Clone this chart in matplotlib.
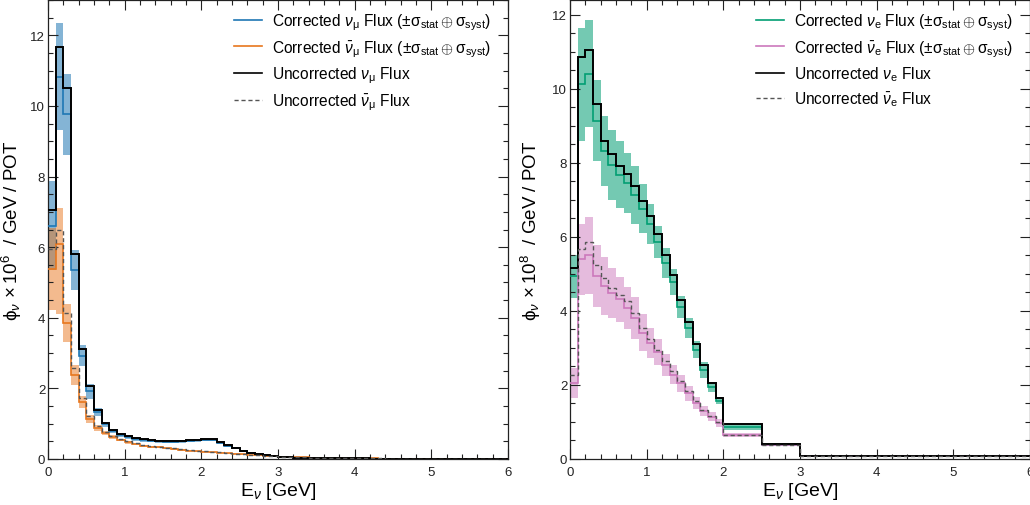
import matplotlib
matplotlib.use('Agg')
import matplotlib.pyplot as plt
import numpy as np
from matplotlib.lines import Line2D
from matplotlib.ticker import MultipleLocator

plt.rcParams['font.family'] = ['Liberation Sans', 'DejaVu Sans']
plt.rcParams['mathtext.fontset'] = 'custom'
plt.rcParams['mathtext.rm'] = 'Liberation Sans'
plt.rcParams['mathtext.it'] = 'Liberation Sans:italic'
plt.rcParams['mathtext.bf'] = 'Liberation Sans:bold'

# ---------------- data: muon-neutrino panel (0.1 GeV bins, 0-6 GeV) ----------------
mu_edges = np.linspace(0.0, 6.0, 61)
numu_uncorr = [7.05, 11.68, 10.50, 5.80, 3.12, 2.08, 1.40, 1.03, 0.83, 0.72,
               0.64, 0.59, 0.56, 0.54, 0.52, 0.51, 0.51, 0.52, 0.53, 0.55,
               0.56, 0.56, 0.47, 0.39, 0.31, 0.24, 0.18, 0.13, 0.10, 0.075,
               0.058, 0.047, 0.040, 0.034, 0.030, 0.026, 0.023, 0.021, 0.019, 0.017,
               0.016, 0.015, 0.014, 0.013, 0.012, 0.011, 0.011, 0.010, 0.010, 0.009,
               0.009, 0.008, 0.008, 0.008, 0.007, 0.007, 0.007, 0.006, 0.006, 0.006]
numu_corr = [6.60, 10.83, 9.76, 5.36, 2.92, 1.92, 1.33, 0.98, 0.79, 0.68,
             0.61, 0.56, 0.53, 0.51, 0.50, 0.49, 0.49, 0.50, 0.51, 0.53,
             0.54, 0.54, 0.45, 0.37, 0.30, 0.23, 0.17, 0.125, 0.095, 0.072,
             0.056, 0.045, 0.038, 0.033, 0.029, 0.025, 0.022, 0.020, 0.018, 0.016,
             0.015, 0.014, 0.013, 0.012, 0.011, 0.011, 0.010, 0.010, 0.009, 0.009,
             0.008, 0.008, 0.008, 0.007, 0.007, 0.007, 0.006, 0.006, 0.006, 0.005]
numu_err = [1.26, 1.52, 1.14, 0.57, 0.30, 0.21, 0.12, 0.08, 0.06, 0.05,
            0.045, 0.04, 0.04, 0.035, 0.035, 0.035, 0.035, 0.035, 0.035, 0.035,
            0.035, 0.035, 0.030, 0.025, 0.020, 0.018, 0.015, 0.012, 0.010, 0.008,
            0.006, 0.005, 0.005, 0.004, 0.004, 0.004, 0.003, 0.003, 0.003, 0.003,
            0.002, 0.002, 0.002, 0.002, 0.002, 0.002, 0.002, 0.002, 0.002, 0.002,
            0.002, 0.002, 0.002, 0.002, 0.002, 0.002, 0.002, 0.002, 0.002, 0.002]
numubar_uncorr = [5.95, 6.50, 4.13, 2.59, 1.73, 1.22, 0.93, 0.77, 0.66, 0.58,
                  0.50, 0.45, 0.41, 0.38, 0.35, 0.32, 0.30, 0.28, 0.26, 0.24,
                  0.22, 0.20, 0.185, 0.17, 0.155, 0.14, 0.125, 0.11, 0.095, 0.082,
                  0.070, 0.060, 0.052, 0.045, 0.040, 0.035, 0.031, 0.028, 0.025, 0.022,
                  0.020, 0.018, 0.016, 0.015, 0.014, 0.013, 0.012, 0.011, 0.010, 0.009,
                  0.009, 0.008, 0.008, 0.007, 0.007, 0.006, 0.006, 0.006, 0.005, 0.005]
numubar_corr = [5.38, 6.08, 3.85, 2.38, 1.61, 1.14, 0.88, 0.73, 0.62, 0.54,
                0.47, 0.42, 0.38, 0.35, 0.33, 0.30, 0.28, 0.26, 0.24, 0.22,
                0.205, 0.19, 0.175, 0.16, 0.145, 0.13, 0.115, 0.10, 0.09, 0.078,
                0.067, 0.057, 0.050, 0.043, 0.038, 0.034, 0.030, 0.027, 0.024, 0.021,
                0.019, 0.017, 0.016, 0.014, 0.013, 0.012, 0.011, 0.010, 0.010, 0.009,
                0.008, 0.008, 0.007, 0.007, 0.006, 0.006, 0.006, 0.005, 0.005, 0.005]
numubar_err_up = [1.17, 1.02, 0.55, 0.27, 0.17, 0.12, 0.08, 0.06, 0.05, 0.04,
                  0.035, 0.03, 0.03, 0.025, 0.025, 0.02, 0.02, 0.02, 0.02, 0.018,
                  0.016, 0.015, 0.014, 0.012, 0.011, 0.010, 0.009, 0.008, 0.007, 0.006,
                  0.005, 0.004, 0.004, 0.003, 0.003, 0.003, 0.003, 0.002, 0.002, 0.002,
                  0.002, 0.002, 0.002, 0.002, 0.002, 0.002, 0.002, 0.002, 0.002, 0.002,
                  0.002, 0.002, 0.002, 0.002, 0.002, 0.002, 0.002, 0.002, 0.002, 0.002]
numubar_err_dn = [1.17, 1.96, 0.55, 0.27, 0.17, 0.12, 0.08, 0.06, 0.05, 0.04,
                  0.035, 0.03, 0.03, 0.025, 0.025, 0.02, 0.02, 0.02, 0.02, 0.018,
                  0.016, 0.015, 0.014, 0.012, 0.011, 0.010, 0.009, 0.008, 0.007, 0.006,
                  0.005, 0.004, 0.004, 0.003, 0.003, 0.003, 0.003, 0.002, 0.002, 0.002,
                  0.002, 0.002, 0.002, 0.002, 0.002, 0.002, 0.002, 0.002, 0.002, 0.002,
                  0.002, 0.002, 0.002, 0.002, 0.002, 0.002, 0.002, 0.002, 0.002, 0.002]

# ---------------- data: electron-neutrino panel ----------------
e_edges = [0.0, 0.1, 0.2, 0.3, 0.4, 0.5, 0.6, 0.7, 0.8, 0.9, 1.0,
           1.1, 1.2, 1.3, 1.4, 1.5, 1.6, 1.7, 1.8, 1.9, 2.0, 2.5, 3.0, 6.0]
nue_uncorr = [5.15, 10.86, 11.04, 9.59, 8.60, 8.23, 7.91, 7.70, 7.37, 6.97,
              6.56, 6.08, 5.52, 4.96, 4.30, 3.70, 3.11, 2.55, 2.05, 1.65,
              0.95, 0.41, 0.09]
nue_corr = [4.94, 10.12, 10.41, 9.14, 8.32, 7.95, 7.68, 7.46, 7.14, 6.76,
            6.35, 5.86, 5.30, 4.78, 4.10, 3.55, 2.95, 2.40, 1.95, 1.58,
            0.86, 0.39, 0.085]
nue_err = [0.58, 1.53, 1.45, 1.10, 0.94, 0.95, 0.90, 0.81, 0.78, 0.66,
           0.55, 0.43, 0.40, 0.34, 0.30, 0.27, 0.23, 0.22, 0.14, 0.10,
           0.075, 0.03, 0.01]
nuebar_uncorr = [2.28, 5.66, 5.86, 5.25, 4.89, 4.62, 4.44, 4.26, 3.95, 3.54,
                 3.23, 2.95, 2.64, 2.37, 2.10, 1.83, 1.56, 1.33, 1.17, 0.99,
                 0.66, 0.38, 0.09]
nuebar_corr = [2.05, 5.39, 5.50, 4.94, 4.67, 4.49, 4.31, 4.08, 3.81, 3.41,
               3.14, 2.89, 2.55, 2.28, 2.04, 1.77, 1.51, 1.30, 1.14, 0.97,
               0.64, 0.37, 0.085]
nuebar_err = [0.40, 0.95, 1.05, 0.83, 0.79, 0.68, 0.61, 0.58, 0.56, 0.50,
              0.41, 0.35, 0.30, 0.26, 0.22, 0.19, 0.16, 0.14, 0.12, 0.10,
              0.05, 0.03, 0.01]

C_BLUE = '#1f77b4'
C_ORANGE = '#e8771e'
C_GREEN = '#029e73'
C_PINK = '#cc78bc'
C_DASH = '#555555'


def band(ax, edges, val, up, dn, color, alpha):
    val = np.asarray(val); up = np.asarray(up); dn = np.asarray(dn)
    ax.stairs(val + up, edges, baseline=val - dn, fill=True,
              color=color, alpha=alpha, lw=0, zorder=1)


def style(ax, ymax, ymajor):
    ax.set_xlim(0, 6)
    ax.set_ylim(0, ymax)
    ax.xaxis.set_major_locator(MultipleLocator(1))
    ax.xaxis.set_minor_locator(MultipleLocator(0.2))
    ax.yaxis.set_major_locator(MultipleLocator(ymajor))
    ax.yaxis.set_minor_locator(MultipleLocator(0.5))
    ax.tick_params(which='both', direction='in', top=True, right=True,
                   colors='#222222', labelcolor='#222222')
    ax.tick_params(which='major', length=7, width=0.8, labelsize=9.5)
    ax.tick_params(which='minor', length=3.5, width=0.8)
    ax.tick_params(axis='x', which='major', pad=5)
    ax.tick_params(axis='y', which='major', pad=2)
    for s in ax.spines.values():
        s.set_color('#222222')
        s.set_linewidth(0.9)
    ax.set_xlabel(r'E$_{\nu}$ [GeV]', fontsize=14)
    ax.xaxis.set_label_coords(0.5, -0.045)


fig = plt.figure(figsize=(10.30, 5.06), dpi=100)
ax1 = fig.add_axes([48 / 1030, 46 / 506, 460 / 1030, 459 / 506])
ax2 = fig.add_axes([570 / 1030, 46 / 506, 460 / 1030, 459 / 506])

# ---- left panel ----
band(ax1, mu_edges, numu_corr, numu_err, numu_err, C_BLUE, 0.55)
band(ax1, mu_edges, numubar_corr, numubar_err_up, numubar_err_dn, C_ORANGE, 0.5)
ax1.stairs(numu_corr, mu_edges, baseline=None, color=C_BLUE, lw=1.2, zorder=3)
ax1.stairs(numubar_corr, mu_edges, baseline=None, color=C_ORANGE, lw=1.2, zorder=3)
ax1.stairs(numu_uncorr, mu_edges, baseline=None, color='black', lw=1.4, zorder=4)
ax1.stairs(numubar_uncorr, mu_edges, baseline=None, color=C_DASH, lw=1.0,
           linestyle=(0, (3, 2)), zorder=5)
style(ax1, 13, 2)
ax1.set_ylabel(r'$\mathrm{\phi}_{\nu}\,\times 10^{6}$  / GeV / POT', fontsize=13.5)
ax1.yaxis.set_label_coords(-0.052, 0.5)

# ---- right panel ----
band(ax2, e_edges, nue_corr, nue_err, nue_err, C_GREEN, 0.55)
band(ax2, e_edges, nuebar_corr, nuebar_err, nuebar_err, C_PINK, 0.5)
ax2.stairs(nue_corr, e_edges, baseline=None, color=C_GREEN, lw=1.2, zorder=3)
ax2.stairs(nuebar_corr, e_edges, baseline=None, color=C_PINK, lw=1.2, zorder=3)
ax2.stairs(nue_uncorr, e_edges, baseline=None, color='black', lw=1.4, zorder=4)
ax2.stairs(nuebar_uncorr, e_edges, baseline=None, color=C_DASH, lw=1.0,
           linestyle=(0, (3, 2)), zorder=5)
style(ax2, 12.4, 2)
ax2.set_ylabel(r'$\mathrm{\phi}_{\nu}\,\times 10^{8}$  / GeV / POT', fontsize=13.5)
ax2.yaxis.set_label_coords(-0.058, 0.5)

err_txt = r'($\pm\mathrm{\sigma}_{\mathrm{stat}}\oplus\mathrm{\sigma}_{\mathrm{syst}}$)'


def legend(ax, c1, c2, flav):
    handles = [Line2D([], [], color=c1, lw=1.2),
               Line2D([], [], color=c2, lw=1.2),
               Line2D([], [], color='black', lw=1.2),
               Line2D([], [], color=C_DASH, lw=1.0, linestyle=(0, (3, 2)))]
    labels = [r'Corrected $\nu_{\mathrm{%s}}$ Flux ' % flav + err_txt,
              r'Corrected $\bar{\nu}_{\mathrm{%s}}$ Flux ' % flav + err_txt,
              r'Uncorrected $\nu_{\mathrm{%s}}$ Flux' % flav,
              r'Uncorrected $\bar{\nu}_{\mathrm{%s}}$ Flux' % flav]
    ax.legend(handles, labels, loc='upper left', bbox_to_anchor=(0.405, 0.975),
              frameon=False, fontsize=11.2, handlelength=1.75, handletextpad=0.7,
              labelspacing=0.38, borderpad=0, borderaxespad=0)


legend(ax1, C_BLUE, C_ORANGE, r'\mu')
legend(ax2, C_GREEN, C_PINK, 'e')

fig.savefig('out.png', dpi=100)
